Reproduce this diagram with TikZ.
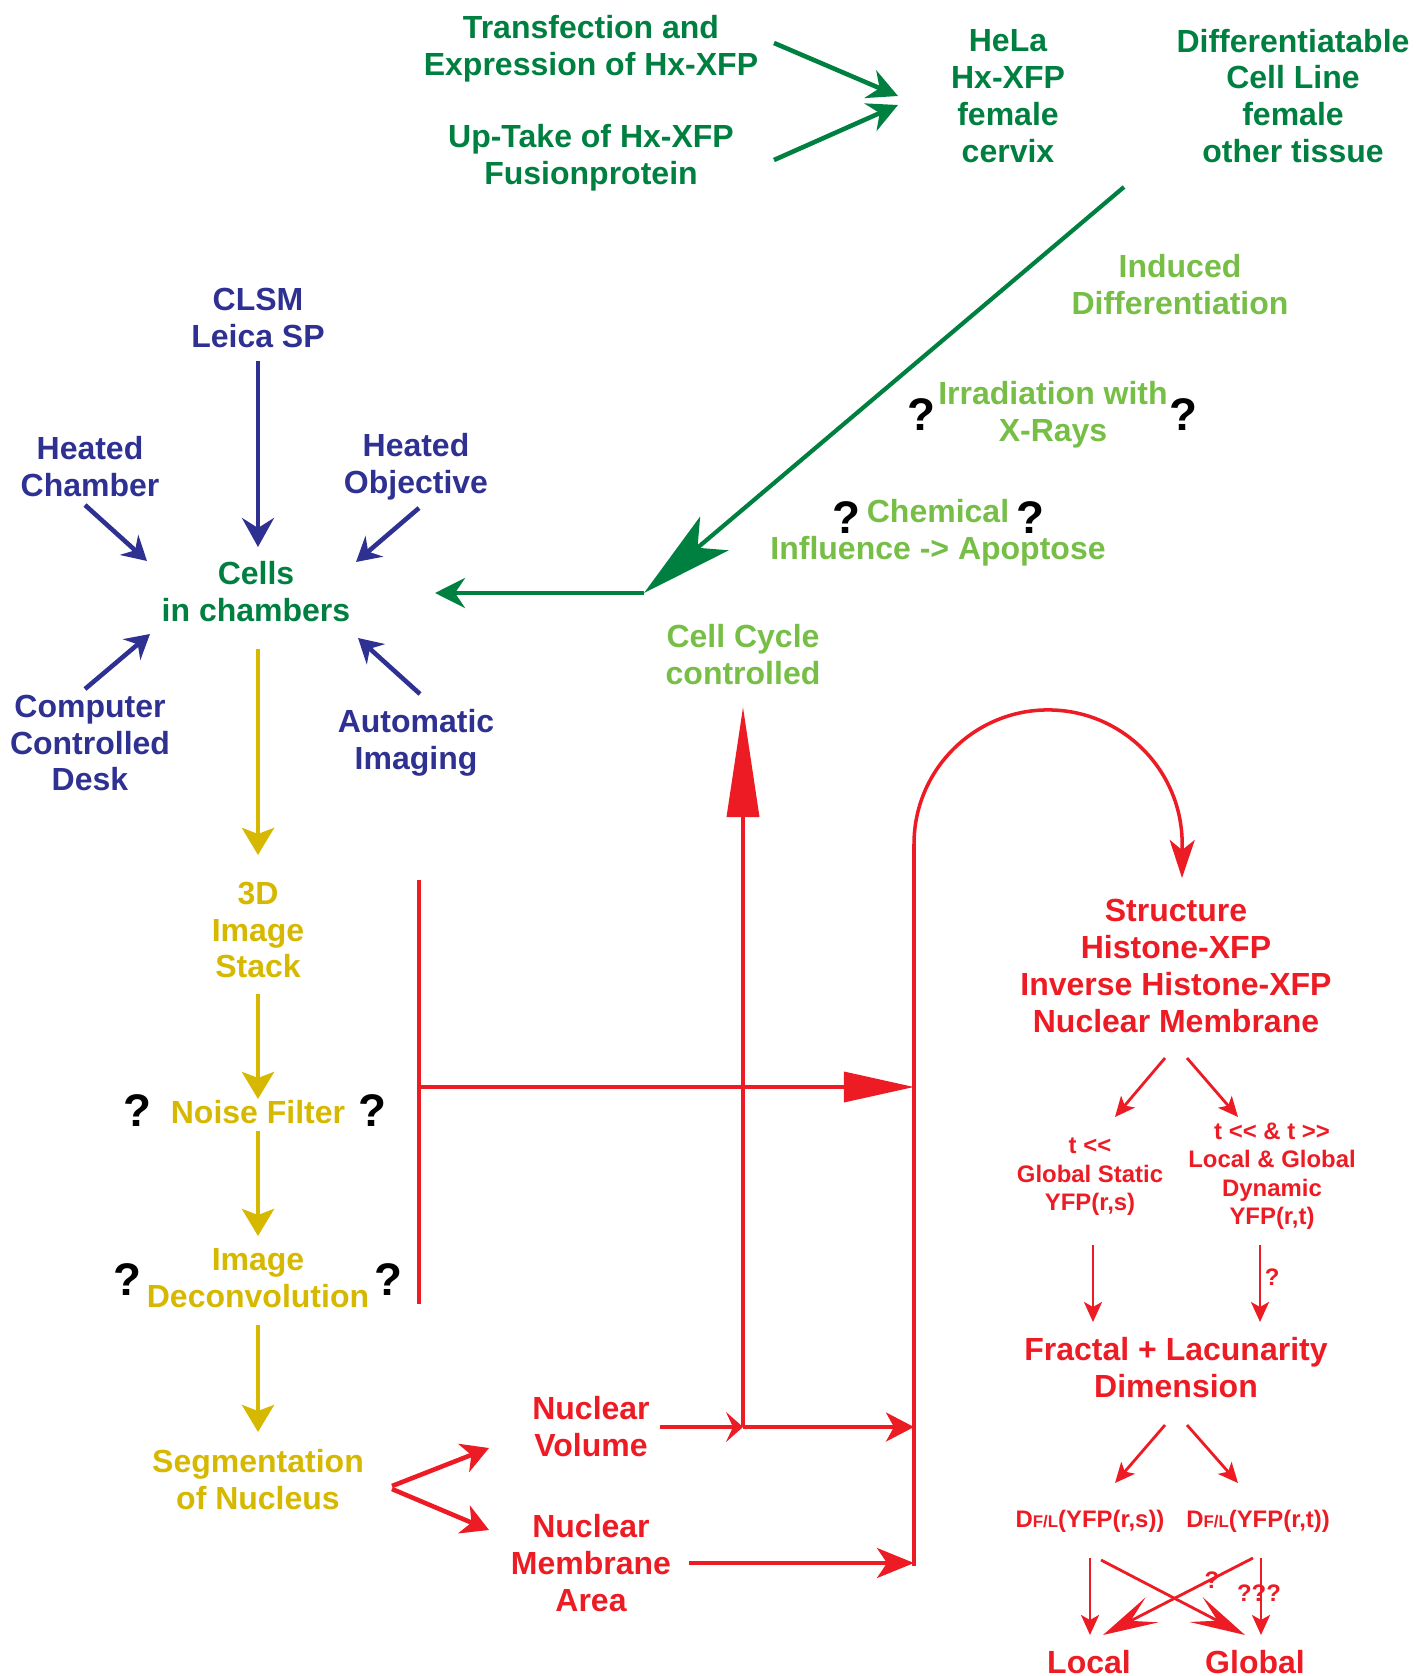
\documentclass[tikz,border=0pt]{standalone}
\usepackage{fontspec}
\setmainfont{Liberation Sans}
\usetikzlibrary{arrows.meta}
\definecolor{dgreen}{RGB}{0,128,64}
\definecolor{lgreen}{RGB}{118,190,70}
\definecolor{dblue}{RGB}{46,49,146}
\definecolor{ochre}{RGB}{214,184,0}
\definecolor{bred}{RGB}{237,28,36}
\tikzset{
	every node/.style = {align=center, inner sep=1pt, font=\fontsize{9.1}{10.5}\selectfont\bfseries},
	small/.style = {font=\fontsize{6.8}{8.1}\selectfont\bfseries},
	quest/.style = {font=\fontsize{13}{13}\selectfont\bfseries},
	green arrow/.style = {draw=dgreen, line width=1.3pt, -{Stealth[length=0.3cm, width=0.3cm, inset=0.1cm]}},
	big green/.style = {draw=dgreen, line width=1.2pt, -{Stealth[length=0.92cm, width=0.44cm, inset=0.22cm]}},
	blue arrow/.style = {draw=dblue, line width=1.3pt, -{Stealth[length=0.24cm, width=0.27cm, inset=0.08cm]}},
	blue big/.style = {draw=dblue, line width=1.3pt, -{Stealth[length=0.29cm, width=0.32cm, inset=0.1cm]}},
	yellow arrow/.style = {draw=ochre, line width=1.3pt, -{Stealth[length=0.27cm, width=0.32cm, inset=0.06cm]}},
	red line/.style = {draw=bred, line width=1pt},
	red head/.style = {red line, -{Stealth[length=0.28cm, width=0.29cm, inset=0.08cm]}},
	seg arrow/.style = {draw=bred, line width=1.3pt, -{Stealth[length=0.27cm, width=0.3cm, inset=0.08cm]}},
	thin red/.style = {draw=bred, line width=0.8pt, -{Stealth[length=0.2cm, width=0.18cm, inset=0.05cm]}},
	cross red/.style = {draw=bred, line width=0.8pt, -{Stealth[length=0.55cm, width=0.28cm, inset=0.24cm]}}
}
\begin{document}
\begin{tikzpicture}[x=0.01cm, y=-0.01cm]
	\useasboundingbox (0,0) rectangle (1415,1676);
	% cell lines
	\node[text=dgreen] (trans) at (591,49) {Transfection and\\Expression of Hx-XFP};
	\node[text=dgreen] (uptake) at (591,158) {Up-Take of Hx-XFP\\Fusionprotein};
	\node[text=dgreen] (hela) at (1008,96) {HeLa\\Hx-XFP\\female\\cervix};
	\node[text=dgreen] (diffline) at (1293,96) {Differentiatable\\Cell Line\\female\\other tissue};
	\node[text=lgreen] (induced) at (1180,285) {Induced\\Differentiation};
	\node[text=lgreen] (xray) at (1053,415) {Irradiation with\\X-Rays};
	\node[quest] (qx1) at (921,415) {?};
	\node[quest] (qx2) at (1183,415) {?};
	\node[text=lgreen] (chem) at (938,533) {Chemical\\Influence -> Apoptose};
	\node[quest] (qc1) at (846,518) {?};
	\node[quest] (qc2) at (1030,518) {?};
	\node[text=lgreen] (cycle) at (743,655) {Cell Cycle\\controlled};
	% microscope
	\node[text=dblue] (clsm) at (258,318) {CLSM\\Leica SP};
	\node[text=dblue] (hchamber) at (90,467) {Heated\\Chamber};
	\node[text=dblue] (hobj) at (416,467) {Heated\\Objective};
	\node[text=dgreen] (cells) at (256,592) {Cells\\in chambers};
	\node[text=dblue] (desk) at (90,743) {Computer\\Controlled\\Desk};
	\node[text=dblue] (autoimg) at (416,743) {Automatic\\Imaging};
	% image processing
	\node[text=ochre] (stack) at (258,930) {3D\\Image\\Stack};
	\node[text=ochre] (noise) at (258,1112) {Noise Filter};
	\node[quest] (qn1) at (137,1111) {?};
	\node[quest] (qn2) at (372,1111) {?};
	\node[text=ochre] (deconv) at (258,1278) {Image\\Deconvolution};
	\node[quest] (qd1) at (127,1280) {?};
	\node[quest] (qd2) at (388,1280) {?};
	\node[text=ochre] (seg) at (258,1480) {Segmentation\\of Nucleus};
	\node[text=bred] (nvol) at (591,1427) {Nuclear\\Volume};
	\node[text=bred] (narea) at (591,1563) {Nuclear\\Membrane\\Area};
	% analysis
	\node[text=bred] (struct) at (1176,966) {Structure\\Histone-XFP\\Inverse Histone-XFP\\Nuclear Membrane};
	\node[small, text=bred] (gstatic) at (1090,1177) {t <{}<\\Global Static\\YFP(r,s)};
	\node[small, text=bred] (ldyn) at (1272,1176) {t <{}< \& t >{}>\\Local \& Global\\Dynamic\\YFP(r,t)};
	\node[text=bred] (fractal) at (1176,1368) {Fractal + Lacunarity\\Dimension};
	\node[small, text=bred] (dfs) at (1090,1521) {D{\fontsize{4.8}{5}\selectfont F/L}(YFP(r,s))};
	\node[small, text=bred] (dft) at (1258,1521) {D{\fontsize{4.8}{5}\selectfont F/L}(YFP(r,t))};
	\node[text=bred] (local) at (1089,1662) {Local};
	\node[text=bred] (global) at (1255,1662) {Global};
	\node[small, text=bred] (q1) at (1212,1580) {?};
	\node[small, text=bred] (q3) at (1259,1593) {???};

	\draw[green arrow] ([shift={(183,-6)}]trans.center) -- ([shift={(-110,0)}]hela.center);
	\draw[green arrow] ([shift={(183,2)}]uptake.center) -- ([shift={(-110,9)}]hela.center);
	\coordinate (gturn) at ([shift={(388,1)}]cells.center);
	\draw[big green] ([shift={(-169,91)}]diffline.center) -- (gturn);
	\draw[green arrow] (gturn) -- ([shift={(179,1)}]cells.center);

	\draw[blue big] ([shift={(0,43)}]clsm.center) -- ([shift={(2,-45)}]cells.center);
	\draw[blue arrow] ([shift={(-5,38)}]hchamber.center) -- ([shift={(-109,-31)}]cells.center);
	\draw[blue arrow] ([shift={(3,41)}]hobj.center) -- ([shift={(100,-30)}]cells.center);
	\draw[blue arrow] ([shift={(-5,-54)}]desk.center) -- ([shift={(-106,42)}]cells.center);
	\draw[blue arrow] ([shift={(4,-49)}]autoimg.center) -- ([shift={(102,46)}]cells.center);

	\draw[yellow arrow] ([shift={(2,57)}]cells.center) -- ([shift={(0,-75)}]stack.center);
	\draw[yellow arrow] ([shift={(0,64)}]stack.center) -- ([shift={(0,-13)}]noise.center);
	\draw[yellow arrow] ([shift={(0,19)}]noise.center) -- ([shift={(0,-42)}]deconv.center);
	\draw[yellow arrow] ([shift={(0,47)}]deconv.center) -- ([shift={(0,-48)}]seg.center);

	% red bus lines
	\coordinate (bus1top) at (419,880);
	\coordinate (bus1mid) at (419,1087);
	\coordinate (bus1bot) at (419,1304);
	\coordinate (bus2top) at (914,844);
	\coordinate (bus2mid) at (914,1087);
	\coordinate (bus2vol) at (914,1427);
	\coordinate (bus2area) at (914,1563);
	\coordinate (bus2bot) at (914,1566);
	\coordinate (cyclefoot) at (743,1427);
	\draw[red line] (bus1top) -- (bus1bot);
	\draw[red line] (bus2top) -- (bus2bot);
	\draw[red line, -{Triangle[length=0.7cm, width=0.3cm]}] (bus1mid) -- (bus2mid);
	\draw[red line, -{Triangle[length=1.1cm, width=0.32cm]}] (cyclefoot) -- ([shift={(0,52)}]cycle.center);
	\draw[red line, -{Stealth[length=0.17cm, width=0.3cm, inset=0.07cm]}] ([shift={(69,0)}]nvol.center) -- (cyclefoot);
	\draw[red head] (cyclefoot) -- (bus2vol);
	\draw[red line, -{Stealth[length=0.37cm, width=0.3cm, inset=0.1cm]}] ([shift={(98,0)}]narea.center) -- (bus2area);
	\draw[red line, -{Stealth[length=0.38cm, width=0.25cm, inset=0.1cm]}] (bus2top) arc[start angle=180, end angle=0, radius=1.34cm] -- ([shift={(6,-88)}]struct.center);
	\draw[seg arrow] ([shift={(134,6)}]seg.center) -- ([shift={(-102,21)}]nvol.center);
	\draw[seg arrow] ([shift={(134,9)}]seg.center) -- ([shift={(-102,-33)}]narea.center);

	\draw[thin red] ([shift={(-11,92)}]struct.center) -- ([shift={(25,-60)}]gstatic.center);
	\draw[thin red] ([shift={(11,92)}]struct.center) -- ([shift={(-34,-59)}]ldyn.center);
	\draw[thin red] ([shift={(3,68)}]gstatic.center) -- ([shift={(-83,-46)}]fractal.center);
	\draw[thin red] ([shift={(-12,69)}]ldyn.center) -- node[small, text=bred, right=0pt, pos=0.42] (qdyn) {?} ([shift={(84,-46)}]fractal.center);
	\draw[thin red] ([shift={(-11,57)}]fractal.center) -- ([shift={(25,-38)}]dfs.center);
	\draw[thin red] ([shift={(11,57)}]fractal.center) -- ([shift={(-20,-38)}]dft.center);
	\draw[thin red] ([shift={(0,37)}]dfs.center) -- ([shift={(1,-27)}]local.center);
	\draw[cross red] ([shift={(11,39)}]dfs.center) -- ([shift={(-10,-27)}]global.center);
	\draw[cross red] ([shift={(-5,37)}]dft.center) -- ([shift={(14,-27)}]local.center);
	\draw[thin red] ([shift={(3,37)}]dft.center) -- ([shift={(6,-27)}]global.center);
\end{tikzpicture}
\end{document}
